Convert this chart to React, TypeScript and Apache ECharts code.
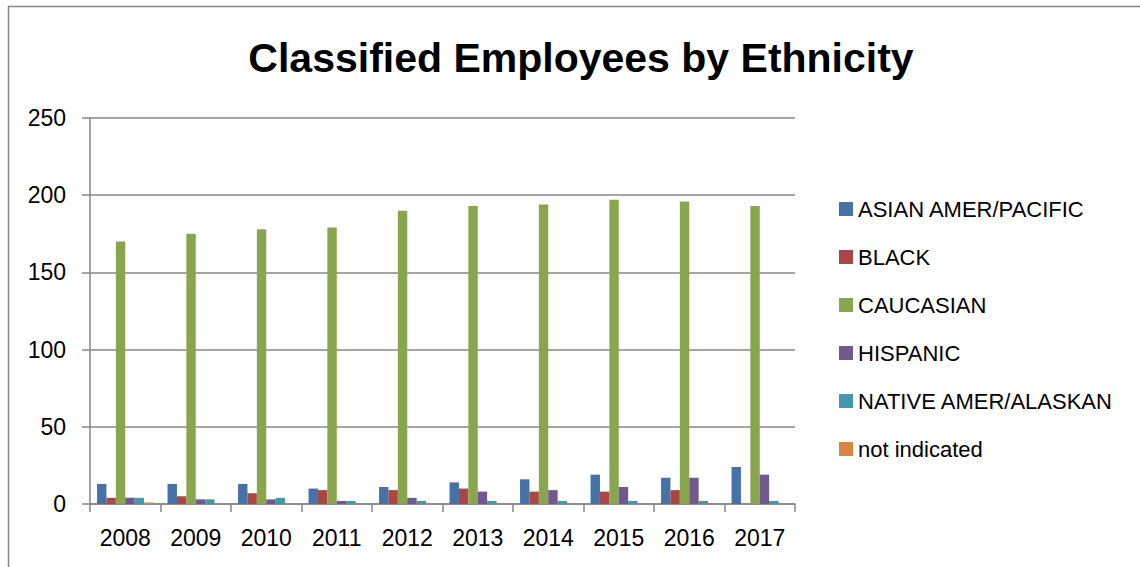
import React, { useEffect, useRef } from "react";
import * as echarts from "echarts";

const years = ["2008", "2009", "2010", "2011", "2012", "2013", "2014", "2015", "2016", "2017"];
const asianAmerPacific = [13, 13, 13, 10, 11, 14, 16, 19, 17, 24];
const black = [4, 5, 7, 9, 9, 10, 8, 8, 9, 0];
const caucasian = [170, 175, 178, 179, 190, 193, 194, 197, 196, 193];
const hispanic = [4, 3, 3, 2, 4, 8, 9, 11, 17, 19];
const nativeAmerAlaskan = [4, 3, 4, 2, 2, 2, 2, 2, 2, 2];
const notIndicated = [1, 0, 0, 0, 0, 0, 0, 0, 0, 0];

const seriesNames = [
  "ASIAN AMER/PACIFIC",
  "BLACK",
  "CAUCASIAN",
  "HISPANIC",
  "NATIVE AMER/ALASKAN",
  "not indicated",
];
const seriesData = [asianAmerPacific, black, caucasian, hispanic, nativeAmerAlaskan, notIndicated];
const colors = ["#4572A7", "#AA4643", "#89A54E", "#71588F", "#4198AF", "#DB843D"];

const FONT = "'Liberation Sans', Arial, sans-serif";
const GRAY = "#878787";

export default function App() {
  const ref = useRef<HTMLDivElement>(null);
  useEffect(() => {
    if (!ref.current) return;
    const chart = echarts.init(ref.current, null, { renderer: "svg" });
    chart.setOption({
      animation: false,
      backgroundColor: "#ffffff",
      color: colors,
      textStyle: { fontFamily: FONT, color: "#000" },
      title: {
        text: "Classified Employees by Ethnicity",
        left: 576,
        top: 32,
        textAlign: "center",
        textStyle: { fontFamily: FONT, fontWeight: "bold", fontSize: 41, color: "#000" },
      },
      graphic: [
        {
          type: "rect",
          shape: { x: 8.5, y: 6.5, width: 1400, height: 800 },
          style: { fill: "none", stroke: GRAY, lineWidth: 1.5 },
          silent: true,
        },
      ],
      legend: {
        orient: "vertical",
        left: 834,
        top: 193,
        itemWidth: 14,
        itemHeight: 14,
        itemGap: 26,
        icon: "rect",
        textStyle: { fontFamily: FONT, fontSize: 22, color: "#000", padding: [0, 0, 0, 0] },
        data: seriesNames,
      },
      grid: { left: 90, right: 345, top: 118, bottom: 63, containLabel: false },
      xAxis: {
        type: "category",
        data: years,
        axisLine: { show: true, lineStyle: { color: GRAY, width: 1.5 } },
        axisTick: { show: true, length: 8, lineStyle: { color: GRAY, width: 1.5 } },
        axisLabel: { fontFamily: FONT, fontSize: 23, color: "#000", margin: 22 },
      },
      yAxis: {
        type: "value",
        min: 0,
        max: 250,
        interval: 50,
        axisLine: { show: true, lineStyle: { color: GRAY, width: 1.5 } },
        axisTick: { show: true, length: 8, lineStyle: { color: GRAY, width: 1.5 } },
        axisLabel: { fontFamily: FONT, fontSize: 23, color: "#000", margin: 24 },
        splitLine: { show: true, lineStyle: { color: GRAY, width: 1.5 } },
      },
      series: seriesNames.map((name, i) => ({
        name,
        type: "bar",
        data: seriesData[i],
        barGap: "0%",
        barCategoryGap: "20%",
        itemStyle: { color: colors[i] },
      })),
    });
    return () => chart.dispose();
  }, []);
  return (
    <div
      ref={ref}
      style={{ position: "absolute", left: 0, top: 0, width: 1140, height: 567 }}
    />
  );
}
